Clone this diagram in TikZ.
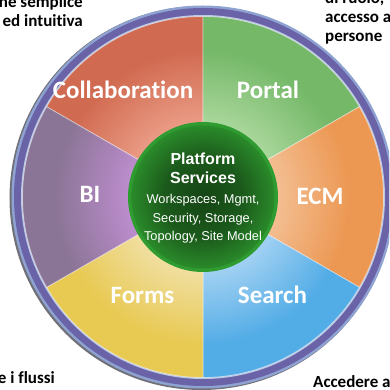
\documentclass[tikz,border=0pt]{standalone}
\usepackage{fontspec}
\setmainfont{Carlito}[Ligatures=NoCommon]
\newfontfamily\hubfont{Liberation Sans}

\definecolor{collab}{HTML}{D06A50}
\definecolor{collabL}{HTML}{EA9A84}
\definecolor{portal}{HTML}{74B868}
\definecolor{portalL}{HTML}{A8D69A}
\definecolor{ecm}{HTML}{EC9752}
\definecolor{ecmL}{HTML}{F3BD90}
\definecolor{search}{HTML}{52ACE6}
\definecolor{searchL}{HTML}{9FD0F2}
\definecolor{forms}{HTML}{E8C952}
\definecolor{formsL}{HTML}{F0DE9E}
\definecolor{bi}{HTML}{8B7596}
\definecolor{biL}{HTML}{BB8CCC}
\definecolor{ringband}{HTML}{6A63A8}
\definecolor{ringedge}{HTML}{8FA3D2}
\definecolor{ringshade}{HTML}{707078}
\definecolor{hubrim}{HTML}{2E9C30}
\definecolor{hubmid}{HTML}{2A8A2A}
\definecolor{hubdark}{HTML}{154515}

\colorlet{segin}{white}
\colorlet{segout}{white}
\pgfdeclareradialshading[segin,segout]{wedge}{\pgfpoint{0bp}{0bp}}{color(0bp)=(segin); color(10.5bp)=(segin); color(20.5bp)=(segout); color(50bp)=(segout)}
\pgfdeclareradialshading{hub}{\pgfpoint{0bp}{0bp}}{color(0bp)=(hubdark); color(14bp)=(hubdark!70!hubmid); color(25bp)=(hubmid); color(50bp)=(hubmid)}

\begin{document}
\begin{tikzpicture}[x=1pt,y=1pt,
  seglabel/.style={text=white,font=\bfseries\fontsize{25}{30}\selectfont},
  note/.style={font=\bfseries\fontsize{17}{19}\selectfont,inner sep=0pt},
  hubtitle/.style={text=white,align=center,font=\hubfont\bfseries\fontsize{16}{19}\selectfont},
  hubtext/.style={text=white,align=center,font=\hubfont\fontsize{12.8}{18.5}\selectfont}]
  \useasboundingbox (-203,-193) rectangle (186,197);
  \clip (-203,-193) rectangle (186,197);

  % outer ring
  \fill[ringshade] (-1.5,-1) circle (192);
  \fill[ringedge] (0,0) circle (191.5);
  \fill[ringband] (0,0) circle (189);
  \fill[ringedge!60!white] (0,0) circle (182);

  % segments
  \foreach \s/\cout/\cin in {90/collab/collabL, 30/portal/portalL, -30/ecm/ecmL,
      -90/search/searchL, -150/forms/formsL, 150/bi/biL}{
    \colorlet{segin}{\cin}\colorlet{segout}{\cout}
    \begin{scope}
      \clip (0,0) -- (\s:180.5) arc[start angle=\s,delta angle=60,radius=180.5] -- cycle;
      \shade[shading=wedge] (0,0) circle (180.5);
    \end{scope}
    \draw[white,opacity=.45,line width=.8pt] (0,0) -- (\s:180.5) arc[start angle=\s,delta angle=60,radius=180.5] -- cycle;
  }

  % hub
  \fill[hubrim] (0,0) circle (75);
  \shade[shading=hub] (0,0) circle (71.5);

  \node[seglabel] (collaboration) at (-80,107) {Collaboration};
  \node[seglabel] (portallbl) at (65,107) {Portal};
  \node[seglabel] (bilbl) at (-113,3) {BI};
  \node[seglabel] (ecmlbl) at (117,1) {ECM};
  \node[seglabel] (formslbl) at (-60.5,-98) {Forms};
  \node[seglabel] (searchlbl) at (69.5,-98) {Search};

  \node[hubtitle] (hubtitle) at (0,29) {Platform\\Services};
  \node[hubtext] (hubtext) at (0,-22) {Workspaces, Mgmt,\\Security, Storage,\\Topology, Site Model};

  % notes round the wheel
  \node[note,align=right,anchor=base east] (notetl) at (-120,170.5) {ne semplice\\ed intuitiva};
  \node[note,align=left,anchor=base west] (notetr) at (122,155) {di ruolo,\\accesso a\\persone};
  \node[note,anchor=base east] (notebl) at (-148,-186) {e i flussi};
  \node[note,anchor=base west] (notebr) at (110,-190) {Accedere a};
\end{tikzpicture}
\end{document}
